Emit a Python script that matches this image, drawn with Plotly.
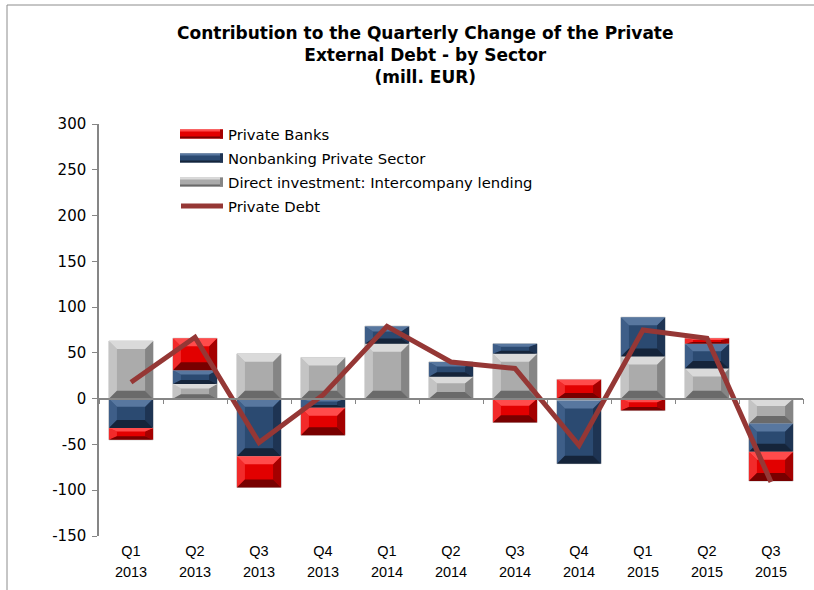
import plotly.graph_objects as go

# ---- data (mill. EUR) ----
quarter_labels = ["Q1", "Q2", "Q3", "Q4", "Q1", "Q2", "Q3", "Q4", "Q1", "Q2", "Q3"]
year_labels = ["2013", "2013", "2013", "2013", "2014", "2014", "2014", "2014",
               "2015", "2015", "2015"]
direct_investment = [63, 16, 49, 45, 60, 24, 49, -2, 46, 33, -27]
nonbanking = [-32, 15, -63, -10, 19, 16, 11, -69, 43, 27, -31]
private_banks = [-13, 35, -34, -30, 0, 0, -26, 21, -13, 6, -32]
private_debt = [18, 67, -48, 4, 79, 40, 33, -51, 75, 66, -91]

y_ticks = [-150, -100, -50, 0, 50, 100, 150, 200, 250, 300]
y_tick_text = [str(v) for v in y_ticks]

# ---- figure geometry ----
W, H = 814, 590
ML, MR, MT, MB = 99, 11, 124, 54
PW, PH = W - ML - MR, H - MT - MB
Y_MIN, Y_MAX = -150, 300
N = len(quarter_labels)
BAR_W = 0.69
PX_X = PW / N                      # pixels per x unit
PX_Y = PH / (Y_MAX - Y_MIN)        # pixels per y unit

# series in stacking order (closest to zero first)
series = [
    dict(name="Direct investment: Intercompany lending", values=direct_investment,
         face="#ababab", top="#dadada", bottom="#6a6a6a", left="#c4c4c4", right="#858585"),
    dict(name="Nonbanking Private Sector", values=nonbanking,
         face="#2b4a71", top="#58779f", bottom="#15243a", left="#3e5e88", right="#1e3453"),
    dict(name="Private Banks", values=private_banks,
         face="#e20000", top="#ff4b4b", bottom="#780000", left="#f22a2a", right="#a40000"),
]
LINE_COLOR = "#953735"
AXIS_COLOR = "#868686"
LABEL_FONT = dict(family="Liberation Sans", size=14.5, color="#000000")

fig = go.Figure()

# stacked bars (relative mode reproduces positive/negative stacking)
for s in series:
    fig.add_trace(go.Bar(
        x=list(range(N)), y=s["values"], name=s["name"], width=BAR_W,
        marker=dict(color=s["face"], line=dict(color="#cfcfcf", width=1)),
        showlegend=False,
    ))

# bevel facets for every stacked segment
pos_base = [0.0] * N
neg_base = [0.0] * N
bevels = {k: {"top": ([], []), "bottom": ([], []), "left": ([], []), "right": ([], [])}
          for k in range(len(series))}
for k, s in enumerate(series):
    for i, v in enumerate(s["values"]):
        if v == 0:
            continue
        if v > 0:
            y0, y1 = pos_base[i], pos_base[i] + v
            pos_base[i] = y1
        else:
            y0, y1 = neg_base[i] + v, neg_base[i]
            neg_base[i] = y0
        x0, x1 = i - BAR_W / 2, i + BAR_W / 2
        h_px = (y1 - y0) * PX_Y
        bx = 8 / PX_X
        by = min(8, 0.3 * h_px) / PX_Y
        polys = {
            "top": [(x0, y1), (x1, y1), (x1 - bx, y1 - by), (x0 + bx, y1 - by)],
            "bottom": [(x0, y0), (x1, y0), (x1 - bx, y0 + by), (x0 + bx, y0 + by)],
            "left": [(x0, y0), (x0 + bx, y0 + by), (x0 + bx, y1 - by), (x0, y1)],
            "right": [(x1, y0), (x1 - bx, y0 + by), (x1 - bx, y1 - by), (x1, y1)],
        }
        for side, pts in polys.items():
            xs, ys = bevels[k][side]
            xs.extend([p[0] for p in pts] + [pts[0][0], None])
            ys.extend([p[1] for p in pts] + [pts[0][1], None])

for k, s in enumerate(series):
    for side in ("left", "right", "top", "bottom"):
        xs, ys = bevels[k][side]
        fig.add_trace(go.Scatter(
            x=xs, y=ys, mode="lines", fill="toself", fillcolor=s[side],
            line=dict(width=0), hoverinfo="skip", showlegend=False,
        ))

# total private debt line
fig.add_trace(go.Scatter(
    x=list(range(N)), y=private_debt, mode="lines", name="Private Debt",
    line=dict(color=LINE_COLOR, width=5), showlegend=False,
))

# carriers for the zero-level axis and the year label row
fig.add_trace(go.Scatter(x=[None], y=[None], xaxis="x2", showlegend=False, hoverinfo="skip"))
fig.add_trace(go.Scatter(x=[None], y=[None], xaxis="x3", showlegend=False, hoverinfo="skip"))


def px_x(p):
    return (p - ML) / PW


def px_y(p):
    return (H - MB - p) / PH


# hand-drawn legend
shapes = []
annotations = []
legend_rows = [("Private Banks", series[2]), ("Nonbanking Private Sector", series[1]),
               ("Direct investment: Intercompany lending", series[0]), ("Private Debt", None)]
for r, (label, s) in enumerate(legend_rows):
    cy = 134 + 24 * r
    if s is not None:
        shapes.append(dict(type="rect", xref="paper", yref="paper",
                           x0=px_x(180), x1=px_x(223), y0=px_y(cy + 4.5), y1=px_y(cy - 4.5),
                           fillcolor=s["face"], line=dict(width=0)))
        shapes.append(dict(type="rect", xref="paper", yref="paper",
                           x0=px_x(180), x1=px_x(223), y0=px_y(cy - 2.5), y1=px_y(cy - 4.5),
                           fillcolor=s["top"], line=dict(width=0)))
        shapes.append(dict(type="rect", xref="paper", yref="paper",
                           x0=px_x(180), x1=px_x(223), y0=px_y(cy + 4.5), y1=px_y(cy + 2.5),
                           fillcolor=s["bottom"], line=dict(width=0)))
        shapes.append(dict(type="rect", xref="paper", yref="paper",
                           x0=px_x(220), x1=px_x(223), y0=px_y(cy + 4.5), y1=px_y(cy - 4.5),
                           fillcolor=s["right"], line=dict(width=0)))
    else:
        shapes.append(dict(type="line", xref="paper", yref="paper",
                           x0=px_x(181), x1=px_x(223), y0=px_y(cy), y1=px_y(cy),
                           line=dict(color=LINE_COLOR, width=5)))
    annotations.append(dict(text=label, xref="paper", yref="paper",
                            x=px_x(226), y=px_y(cy), xanchor="left", yanchor="middle",
                            showarrow=False,
                            font=dict(family="DejaVu Sans", size=14.8, color="#000000")))

# chart area frame (top and left edges)
shapes.append(dict(type="line", xref="paper", yref="paper",
                   x0=px_x(7), x1=px_x(814), y0=px_y(5), y1=px_y(5),
                   line=dict(color="#8c8c8c", width=1)))
shapes.append(dict(type="line", xref="paper", yref="paper",
                   x0=px_x(7), x1=px_x(7), y0=px_y(5), y1=px_y(590),
                   line=dict(color="#8c8c8c", width=1)))

# title
annotations.append(dict(
    text="Contribution to the Quarterly Change of the Private<br>External Debt - by Sector<br>(mill. EUR)",
    xref="paper", yref="paper", x=px_x(425), y=px_y(21), xanchor="center", yanchor="top",
    showarrow=False, align="center",
    font=dict(family="DejaVu Sans", size=17, color="#000000", weight="bold"),
))

fig.update_layout(
    width=W, height=H,
    margin=dict(l=ML, r=MR, t=MT, b=MB, pad=0, autoexpand=False),
    paper_bgcolor="white", plot_bgcolor="white",
    barmode="relative", bargap=0.31,
    showlegend=False,
    xaxis=dict(range=[-0.5, N - 0.5], tickvals=list(range(N)), ticktext=quarter_labels,
               showgrid=False, zeroline=False, showline=False, ticks="",
               automargin=False, ticklabelstandoff=4, tickfont=LABEL_FONT),
    xaxis2=dict(overlaying="x", matches="x", anchor="free", position=(0 - Y_MIN) / (Y_MAX - Y_MIN),
                tickvals=[i - 0.5 for i in range(N + 1)], showticklabels=False,
                ticks="outside", ticklen=5, tickcolor=AXIS_COLOR,
                showline=True, linecolor=AXIS_COLOR, linewidth=1.5,
                showgrid=False, zeroline=False, automargin=False),
    xaxis3=dict(overlaying="x", matches="x", anchor="y", side="bottom",
                tickvals=list(range(N)), ticktext=year_labels,
                showgrid=False, zeroline=False, showline=False, ticks="",
                automargin=False, ticklabelstandoff=25, tickfont=LABEL_FONT),
    yaxis=dict(range=[Y_MIN, Y_MAX], tickvals=y_ticks, ticktext=y_tick_text,
               showgrid=False, zeroline=False,
               showline=True, linecolor=AXIS_COLOR, linewidth=1.5,
               ticks="outside", ticklen=5, tickcolor=AXIS_COLOR,
               automargin=False, ticklabelstandoff=3,
               tickfont=dict(family="DejaVu Sans", size=15, color="#000000")),
    shapes=shapes,
    annotations=annotations,
)

fig.write_html("out.html")
